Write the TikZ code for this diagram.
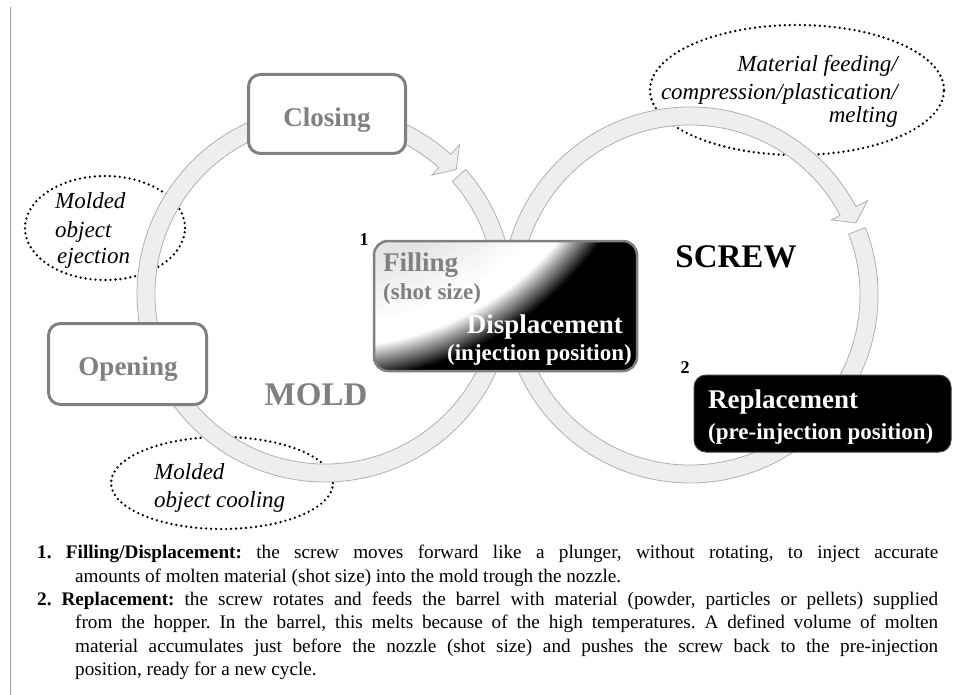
\documentclass[tikz,border=0pt]{standalone}
\usepackage{fontspec}
\setmainfont{Liberation Serif}
\usetikzlibrary{calc,shapes.geometric}
\definecolor{ringfill}{HTML}{EEEEEE}
\definecolor{ringedge}{HTML}{B0B0B0}
\definecolor{boxgray}{HTML}{808080}
\definecolor{framegray}{HTML}{A0A0A0}
\begin{document}
\begin{tikzpicture}[x=1pt,y=-1pt,
  ring/.style={fill=ringfill, draw=ringedge, line width=0.8pt},
  dotell/.style={ellipse, draw=black, line width=2.6pt, dash pattern=on 0pt off 5pt, line cap=round, inner sep=0pt},
  graybox/.style={rectangle, draw=boxgray, line width=3pt, fill=white, rounded corners=12pt, inner sep=0pt},
  fillbox/.style={rectangle, draw=boxgray, line width=2.5pt, rounded corners=14pt, inner sep=0pt},
  blackbox/.style={rectangle, draw=black!75, line width=1pt, fill=black, rounded corners=12pt, inner sep=0pt},
  big/.style={inner sep=0pt, font=\bfseries\fontsize{27}{30}\selectfont},
  sub/.style={inner sep=0pt, font=\bfseries\fontsize{23}{26}\selectfont},
  huge/.style={inner sep=0pt, font=\bfseries\fontsize{33}{36}\selectfont},
  num/.style={inner sep=0pt, font=\bfseries\fontsize{18}{20}\selectfont},
  note/.style={inner sep=0pt, font=\itshape\fontsize{23}{26}\selectfont}]
\useasboundingbox (0,0) rectangle (957,695);
\fill[white] (0,0) rectangle (957,695);
% frame line
\coordinate (ltop) at (10,7);
\coordinate (lbot) at (10,695);
\draw[framegray, line width=1pt] (ltop) -- (lbot);

% dotted ellipses (behind rings)
\node[dotell, minimum width=160pt, minimum height=104pt] (ejectell) at (105,228) {};
\node[dotell, minimum width=222pt, minimum height=92pt] (coolell) at (222,483) {};
\node[dotell, minimum width=294pt, minimum height=130pt] (feedell) at (797,90) {};

% rings
\coordinate (CL) at (325,294);
\coordinate (CR) at (690,295);
% left ring: arrow segment
\draw[ring] ($(CL)+(250:188)$) arc[start angle=250, end angle=312, radius=188]
  -- ($(CL)+(312:201)$) -- ($(CL)+(316.5:181)$) -- ($(CL)+(312:160)$)
  -- ($(CL)+(312:170)$) arc[start angle=312, end angle=250, radius=170] -- cycle;
% left ring: rest
\draw[ring] ($(CL)+(318.5:188)$) arc[start angle=318.5, end angle=610, radius=188]
  -- ($(CL)+(610:170)$) arc[start angle=610, end angle=318.5, radius=170] -- cycle;
% right ring: arrow segment
\draw[ring] ($(CR)+(170:188)$) arc[start angle=170, end angle=332, radius=188]
  -- ($(CR)+(332:201)$) -- ($(CR)+(336.5:181)$) -- ($(CR)+(332:160)$)
  -- ($(CR)+(332:170)$) arc[start angle=332, end angle=170, radius=170] -- cycle;
% right ring: rest
\draw[ring] ($(CR)+(339:188)$) arc[start angle=339, end angle=530, radius=188]
  -- ($(CR)+(530:170)$) arc[start angle=530, end angle=339, radius=170] -- cycle;

% boxes
\node[graybox, minimum width=157pt, minimum height=79pt] (closing) at (327,114) {};
\node[graybox, minimum width=158pt, minimum height=81pt] (opening) at (127.5,364) {};

% gradient filling box
\coordinate (gc) at (330,49);
\begin{scope}
\clip[rounded corners=14pt] (374,241) rectangle (637,371);
\foreach \rr in {450,448,...,180}{
  \pgfmathsetmacro\pa{max(0,min(100,((\rr)-299)/34*100))}
  \pgfmathsetmacro\pb{max(0,min(10,(280-(\rr))/6))}
  \pgfmathtruncatemacro\pc{\pa+\pb}
  \fill[black!\pc] (gc) circle[radius=\rr];
}
\end{scope}
\node[fillbox, minimum width=263pt, minimum height=130pt] (filling) at (505.5,306) {};
\node[blackbox, minimum width=257pt, minimum height=77pt] (replacement) at (822.5,413.5) {};

% box texts
\node[big, text=boxgray, anchor=base] (closingtxt) at (327,127) {Closing};
\node[big, text=boxgray, anchor=base] (openingtxt) at (128,375) {Opening};
\node[big, text=boxgray, anchor=base west] (fillingtxt) at (383,271) {Filling};
\node[sub, text=boxgray, anchor=base west] (shottxt) at (383,299) {(shot size)};
\node[big, text=white, anchor=base east] (disptxt) at (623,333) {Displacement};
\node[sub, text=white, anchor=base east] (injtxt) at (632,360) {(injection position)};
\node[big, text=white, anchor=base west] (repltxt) at (708,408) {Replacement};
\node[sub, text=white, anchor=base west] (pretxt) at (708,439) {(pre-injection position)};
\node[huge, text=boxgray, anchor=base] (moldtxt) at (316,405) {MOLD};
\node[huge, text=black, anchor=base] (screwtxt) at (736,267) {SCREW};
\node[num, anchor=base] (one) at (364,245) {1};
\node[num, anchor=base] (two) at (685,373) {2};

% notes
\node[note, anchor=base west] (ej1) at (55,208) {Molded};
\node[note, anchor=base west] (ej2) at (55,237) {object};
\node[note, anchor=base west] (ej3) at (57,263) {ejection};
\node[note, anchor=base west] (co1) at (154,479) {Molded};
\node[note, anchor=base west] (co2) at (154,507) {object cooling};
\node[note, anchor=base east] (fe1) at (898,72) {Material feeding/};
\node[note, anchor=base east] (fe2) at (898,100) {compression/plastication/};
\node[note, anchor=base east] (fe3) at (898,123) {melting};

% caption
\node[anchor=north west, inner sep=0pt, text width=901pt, align=justify,
      font=\fontsize{19.2}{23.4}\selectfont] (caption) at (37,545) {%
\parindent=0pt\tolerance=9999\hyphenpenalty=10000\exhyphenpenalty=10000\frenchspacing
{\hangindent=38pt\hangafter=1\textbf{1. Filling/Displacement:} the screw moves forward like a plunger, without rotating, to inject accurate\linebreak amounts of molten material (shot size) into the mold trough the nozzle.\par}
{\hangindent=38pt\hangafter=1\textbf{2. Replacement:} the screw rotates and feeds the barrel with material (powder, particles or pellets) supplied\linebreak from the hopper. In the barrel, this melts because of the high temperatures. A defined volume of molten\linebreak material accumulates just before the nozzle (shot size) and pushes the screw back to the pre-injection\linebreak position, ready for a new cycle.\par}};
\end{tikzpicture}
\end{document}
